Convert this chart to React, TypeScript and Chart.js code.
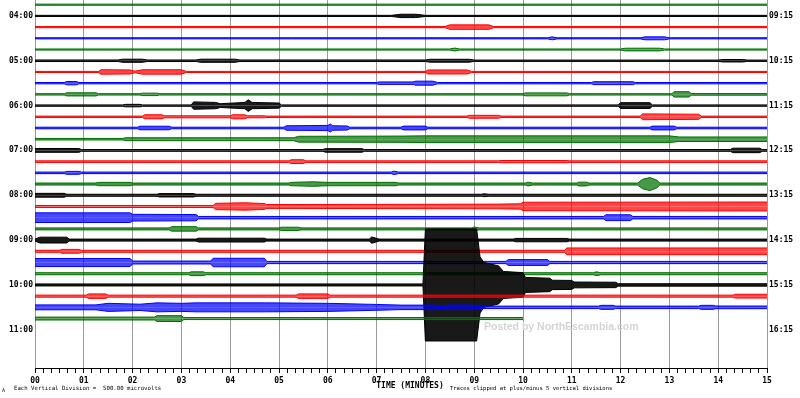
import { useEffect, useRef } from 'react';
import { Chart, registerables } from 'chart.js';

Chart.register(...registerables);

// ---- axis labels ----
const minuteLabels = ['00', '01', '02', '03', '04', '05', '06', '07', '08', '09', '10', '11', '12', '13', '14', '15'];
const hourRows = [1, 5, 9, 13, 17, 21, 25, 29];
const leftHourLabels = ['04:00', '05:00', '06:00', '07:00', '08:00', '09:00', '10:00', '11:00'];
const rightHourLabels = ['09:15', '10:15', '11:15', '12:15', '13:15', '14:15', '15:15', '16:15'];

// colour cycle: black, red, blue, green (row 0 = 03:45 is green)
const traceColors = ['#000000', '#ff0000', '#0000ff', '#007000'];
const traceFills = ['rgba(0,0,0,0.9)', 'rgba(255,0,0,0.72)', 'rgba(0,0,255,0.72)', 'rgba(0,112,0,0.72)'];

// ---- trace envelopes: [minute, half-amplitude in vertical divisions] ----
const row0345 = [[0, .05], [15, .05]];
const row0400 = [[0, .05], [7.3, .05], [7.5, .15], [7.8, .15], [8, .05], [15, .05]];
const row0415 = [[0, .05], [8.4, .05], [8.5, .2], [9.3, .2], [9.4, .05], [15, .05]];
const row0430 = [[0, .05], [10.5, .05], [10.6, .13], [10.7, .05], [12.4, .05], [12.5, .13], [12.9, .13], [13, .05], [15, .05]];
const row0445 = [[0, .05], [8.5, .05], [8.6, .13], [8.7, .05], [12, .05], [12.1, .12], [12.8, .12], [12.9, .05], [15, .05]];
const row0500 = [[0, .07], [1.7, .07], [1.8, .14], [2.2, .14], [2.3, .07], [3.3, .07], [3.4, .14], [4.1, .14], [4.2, .07], [8, .07], [8.1, .13], [8.9, .13], [9, .06], [14, .06], [14.1, .11], [14.5, .11], [14.6, .06], [15, .06]];
const row0515 = [[0, .05], [1.3, .05], [1.35, .2], [1.95, .18], [2.05, .07], [2.2, .2], [3, .2], [3.1, .05], [8, .05], [8.05, .18], [8.85, .18], [8.95, .05], [15, .05]];
const row0530 = [[0, .06], [0.6, .06], [0.65, .15], [0.85, .15], [0.9, .06], [7, .06], [7.05, .11], [7.75, .11], [7.8, .18], [8.15, .18], [8.25, .06], [11.4, .06], [11.45, .13], [12.25, .13], [12.3, .06], [15, .06]];
const row0545 = [[0, .06], [0.6, .06], [0.65, .14], [1.25, .14], [1.3, .06], [2.15, .06], [2.2, .11], [2.5, .11], [2.55, .06], [10, .06], [10.05, .13], [10.9, .13], [10.95, .06], [13.05, .06], [13.1, .24], [13.4, .24], [13.45, .07], [15, .07]];
const row0600 = [[0, .06], [1.8, .06], [1.85, .11], [2.15, .11], [2.2, .06], [3.2, .06], [3.25, .33], [3.7, .28], [3.8, .17], [4.3, .28], [4.37, .52], [4.45, .28], [5, .23], [5.05, .06], [11.95, .06], [12, .26], [12.6, .26], [12.65, .06], [15, .06]];
const row0615 = [[0, .06], [2.2, .06], [2.25, .18], [2.6, .18], [2.65, .09], [4, .09], [4.05, .18], [4.3, .18], [4.35, .09], [4.7, .09], [4.75, .06], [8.85, .06], [8.9, .13], [9.5, .13], [9.55, .06], [12.4, .06], [12.45, .26], [13.6, .23], [13.65, .06], [15, .06]];
const row0630 = [[0, .07], [2.1, .07], [2.15, .16], [2.75, .16], [2.8, .07], [5.1, .07], [5.15, .2], [6, .23], [6.05, .36], [6.1, .2], [6.4, .18], [6.45, .07], [7.5, .07], [7.55, .17], [8, .17], [8.05, .07], [12.6, .07], [12.65, .17], [13.1, .17], [13.15, .07], [15, .07]];
const row0645 = [[0, .07], [1.8, .07], [1.85, .13], [5.3, .13], [5.4, .26], [7.5, .28], [8, .3], [13, .3], [13.2, .2], [15, .2]];
const row0700 = [[0, .17], [0.9, .17], [0.95, .08], [5.9, .08], [5.95, .16], [6.7, .16], [6.75, .08], [14.25, .08], [14.3, .2], [14.85, .2], [14.9, .08], [15, .08]];
const row0715 = [[0, .07], [5.2, .07], [5.25, .17], [5.5, .17], [5.55, .07], [9.5, .07], [9.55, .1], [10.9, .1], [10.95, .07], [15, .07]];
const row0730 = [[0, .07], [0.6, .07], [0.65, .13], [0.9, .13], [0.95, .07], [7.3, .07], [7.35, .15], [7.45, .07], [15, .07]];
const row0745 = [[0, .09], [1.25, .09], [1.3, .15], [1.95, .15], [2, .09], [5.2, .09], [5.25, .15], [5.7, .2], [6, .15], [7.4, .15], [7.45, .09], [10.05, .09], [10.1, .17], [10.2, .09], [11.1, .09], [11.15, .17], [11.3, .17], [11.35, .09], [12.35, .09], [12.45, .42], [12.6, .58], [12.75, .33], [12.8, .09], [15, .09]];
const row0800 = [[0, .17], [0.6, .17], [0.65, .09], [2.5, .09], [2.55, .15], [3.25, .15], [3.3, .09], [9.15, .09], [9.2, .13], [9.3, .09], [15, .09]];
const row0815 = [[0, .09], [3.65, .09], [3.7, .28], [4.3, .33], [4.7, .26], [4.75, .17], [7.5, .19], [9.5, .21], [9.95, .24], [10, .38], [15, .4]];
const row0830 = [[0, .43], [1.95, .43], [2, .3], [3.3, .28], [3.35, .11], [11.65, .11], [11.7, .26], [12.2, .26], [12.25, .11], [15, .11]];
const row0845 = [[0, .09], [2.75, .09], [2.8, .2], [3.3, .2], [3.35, .09], [5, .09], [5.05, .15], [5.4, .15], [5.45, .09], [8.95, .09], [9, .17], [9.1, .09], [15, .09]];
const row0900 = [[0, .09], [0.1, .26], [0.65, .26], [0.7, .09], [3.3, .09], [3.35, .17], [4.7, .17], [4.75, .09], [6.85, .09], [6.9, .28], [7.05, .09], [9.8, .09], [9.85, .15], [10.9, .15], [10.95, .09], [15, .09]];
const row0915 = [[0, .09], [0.5, .09], [0.55, .17], [0.9, .17], [0.95, .09], [10.85, .09], [10.9, .3], [15, .3]];
const row0930 = [[0, .36], [1.95, .36], [2, .13], [3.6, .13], [3.65, .38], [4.7, .38], [4.75, .1], [9.65, .1], [9.7, .26], [10.5, .26], [10.55, .1], [15, .1]];
const row0945 = [[0, .09], [3.15, .09], [3.2, .17], [3.45, .17], [3.5, .09], [11.45, .09], [11.5, .17], [11.6, .09], [15, .09]];
const row1000 = [[0, .09], [7.95, .09], [8, 5], [9.05, 5], [9.12, 2.5], [9.2, 2], [9.5, 1.7], [9.6, 1.2], [10, 1.1], [10.05, .67], [10.55, .6], [10.6, .42], [11, .4], [11.05, .26], [11.9, .24], [11.95, .11], [15, .11]];
const row1015 = [[0, .09], [1.05, .09], [1.1, .2], [1.45, .2], [1.5, .09], [5.35, .09], [5.4, .2], [6, .2], [6.05, .09], [14.3, .09], [14.35, .17], [15, .17]];
const row1030 = [[0, .22], [1.25, .22], [1.5, .36], [2.15, .28], [2.5, .4], [3, .36], [3.3, .4], [4.7, .4], [6, .36], [7, .26], [7.5, .2], [8.2, .2], [8.25, .11], [8.4, .11], [8.45, .2], [9, .2], [9.05, .11], [11.55, .11], [11.6, .18], [11.85, .18], [11.9, .11], [13.6, .11], [13.65, .18], [13.9, .18], [13.95, .12], [15, .12]];
const row1045 = [[0, .13], [2.45, .13], [2.5, .26], [3, .26], [3.05, .09], [10, .09]];

const traceEnvelopes = [
  row0345, row0400, row0415, row0430, row0445, row0500, row0515, row0530, row0545,
  row0600, row0615, row0630, row0645, row0700, row0715, row0730, row0745,
  row0800, row0815, row0830, row0845, row0900, row0915, row0930, row0945,
  row1000, row1015, row1030, row1045,
];

const isMinute = (v: number) => Math.abs(v - Math.round(v)) < 1e-6;
const monoBold = { family: '"DejaVu Sans Mono", monospace', size: 8, weight: 'bold' as const };

const captionPlugin = {
  id: 'captions',
  afterDraw(chart: any) {
    const ctx = chart.ctx as CanvasRenderingContext2D;
    ctx.save();
    ctx.fillStyle = '#d4d4d4';
    ctx.font = 'bold 10.5px "Liberation Sans", Arial, sans-serif';
    ctx.textBaseline = 'middle';
    ctx.textAlign = 'left';
    ctx.fillText('Posted by NorthEscambia.com', 484, 327);

    ctx.fillStyle = '#000';
    ctx.font = 'bold 8px "DejaVu Sans Mono", monospace';
    ctx.textAlign = 'center';
    ctx.fillText('TIME (MINUTES)', 410, 386);

    ctx.font = '5.7px "DejaVu Sans Mono", monospace';
    ctx.textAlign = 'left';
    ctx.fillText('Each Vertical Division =  500.00 microvolts', 14, 389);
    ctx.font = '5.5px "DejaVu Sans Mono", monospace';
    ctx.fillText('Traces clipped at plus/minus 5 vertical divisions', 450, 389);
    ctx.font = '5px "DejaVu Sans Mono", monospace';
    ctx.fillText('A', 2, 391);
    ctx.restore();
  },
};

export default function App() {
  const ref = useRef<HTMLCanvasElement | null>(null);

  useEffect(() => {
    if (!ref.current) return;
    const datasets: any[] = [];
    traceEnvelopes.forEach((env, k) => {
      const ci = (k + 3) % 4;
      const common = {
        borderColor: traceColors[ci],
        backgroundColor: traceFills[ci],
        borderWidth: 1,
        pointRadius: 0,
        tension: 0,
        fill: { value: k },
        order: 100 - k,
      };
      datasets.push({ ...common, data: env.map(([m, a]) => ({ x: m, y: k - a })) });
      datasets.push({ ...common, data: env.map(([m, a]) => ({ x: m, y: k + a })) });
    });

    const chart = new Chart(ref.current, {
      type: 'line',
      data: { datasets },
      options: {
        animation: false,
        responsive: false,
        maintainAspectRatio: false,
        layout: { padding: 0 },
        plugins: { legend: { display: false }, tooltip: { enabled: false } },
        scales: {
          x: {
            type: 'linear',
            min: 0,
            max: 15,
            afterBuildTicks: (s: any) => {
              s.ticks = Array.from({ length: 91 }, (_, i) => ({ value: i / 6 }));
            },
            afterFit: (s: any) => { s.height = 30; s.paddingLeft = 0; s.paddingRight = 0; },
            grid: {
              color: (c: any) => (c.tick && isMinute(c.tick.value) ? '#9a9a9a' : 'rgba(0,0,0,0)'),
              tickColor: '#000',
              tickLength: 5,
              lineWidth: 1,
            },
            border: { display: true, color: '#000', width: 1 },
            ticks: {
              autoSkip: false,
              maxRotation: 0,
              minRotation: 0,
              padding: 3,
              color: '#000',
              font: monoBold,
              callback: (v: any) => (isMinute(Number(v)) ? minuteLabels[Math.round(Number(v))] : ''),
            },
          },
          y: {
            type: 'linear',
            position: 'left',
            reverse: true,
            min: -0.419,
            max: 32.41,
            afterBuildTicks: (s: any) => { s.ticks = hourRows.map((v) => ({ value: v })); },
            afterFit: (s: any) => { s.width = 35; s.paddingTop = 0; s.paddingBottom = 0; },
            grid: { display: false, drawTicks: false, tickLength: 0 },
            border: { display: false },
            ticks: {
              autoSkip: false,
              padding: 2,
              color: '#000',
              font: monoBold,
              callback: (_v: any, i: number) => leftHourLabels[i],
            },
          },
          y2: {
            type: 'linear',
            position: 'right',
            reverse: true,
            min: -0.419,
            max: 32.41,
            afterBuildTicks: (s: any) => { s.ticks = hourRows.map((v) => ({ value: v })); },
            afterFit: (s: any) => { s.width = 33; s.paddingTop = 0; s.paddingBottom = 0; },
            grid: { display: false, drawTicks: false, tickLength: 0 },
            border: { display: false },
            ticks: {
              autoSkip: false,
              padding: 2,
              color: '#000',
              font: monoBold,
              callback: (_v: any, i: number) => rightHourLabels[i],
            },
          },
        },
      },
      plugins: [captionPlugin],
    });
    return () => chart.destroy();
  }, []);

  return (
    <div style={{ position: 'fixed', left: 0, top: 0, width: 800, height: 398, background: '#fff' }}>
      <canvas ref={ref} width={800} height={398} style={{ display: 'block', width: 800, height: 398 }} />
    </div>
  );
}
